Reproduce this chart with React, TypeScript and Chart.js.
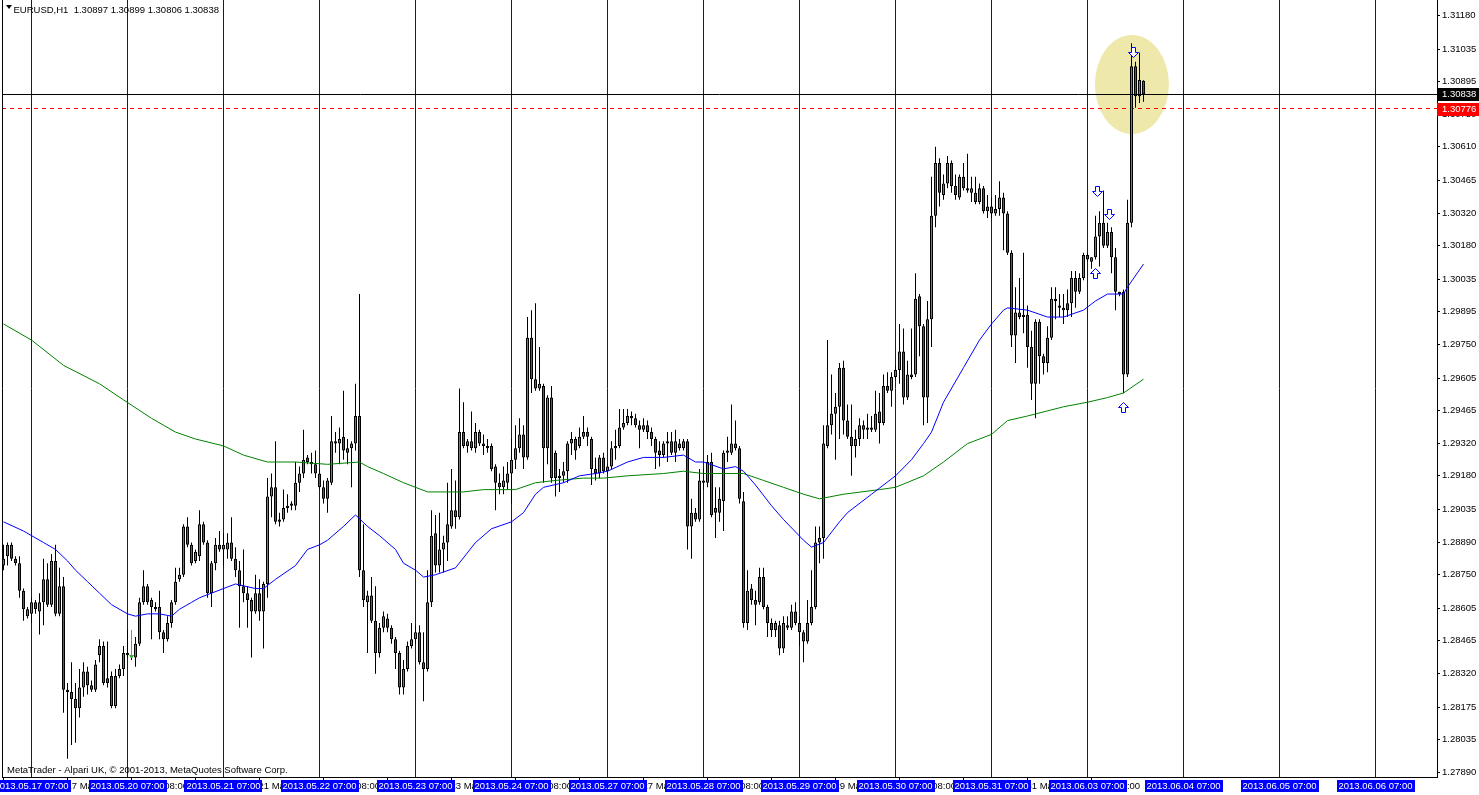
import React, { useEffect, useRef } from "react";
import { Chart, registerables } from "chart.js";

Chart.register(...registerables);

const FONT_FAMILY = '"Liberation Sans", Arial, sans-serif';
const FONT_PX = 9.5;

const symbolTitle = "EURUSD,H1";
const titleValues = "1.30897 1.30899 1.30806 1.30838";
const copyrightText = "MetaTrader - Alpari UK, \u00A9 2001-2013, MetaQuotes Software Corp.";

// Hourly OHLC, bar 0 = 2013.05.17 00:00
const opens = [
  1.2879,1.2883,1.2888,1.2882,1.2880,1.2868,1.2857,1.2858,1.2863,1.2859,
  1.2863,1.2873,1.2862,1.2881,1.2858,1.2870,1.2825,1.2824,1.2821,1.2817,
  1.2826,1.2833,1.2827,1.2825,1.2840,1.2844,1.2830,1.2831,1.2818,1.2831,
  1.2834,1.2841,1.2839,1.2839,1.2845,1.2863,1.2870,1.2864,1.2861,1.2861,
  1.2850,1.2847,1.2854,1.2863,1.2873,1.2875,1.2896,1.2888,1.2881,1.2883,
  1.2897,1.2889,1.2867,1.2880,1.2888,1.2886,1.2886,1.2889,1.2882,1.2877,
  1.2870,1.2867,1.2864,1.2859,1.2867,1.2859,1.2871,1.2909,1.2913,1.2899,
  1.2899,1.2904,1.2905,1.2905,1.2915,1.2919,1.2926,1.2924,1.2923,1.2919,
  1.2913,1.2908,1.2915,1.2933,1.2932,1.2935,1.2928,1.2930,1.2932,1.2944,
  1.2877,1.2863,1.2866,1.2855,1.2841,1.2852,1.2856,1.2852,1.2847,1.2841,
  1.2826,1.2834,1.2844,1.2847,1.2850,1.2837,1.2834,1.2863,1.2893,1.2879,
  1.2886,1.2889,1.2896,1.2903,1.2900,1.2937,1.2931,1.2933,1.2930,1.2937,
  1.2932,1.2931,1.2931,1.2922,1.2915,1.2913,1.2915,1.2919,1.2925,1.2930,
  1.2936,1.2926,1.2978,1.2960,1.2956,1.2957,1.2930,1.2952,1.2928,1.2917,
  1.2918,1.2920,1.2932,1.2934,1.2931,1.2935,1.2937,1.2934,1.2921,1.2919,
  1.2926,1.2920,1.2922,1.2930,1.2931,1.2939,1.2941,1.2944,1.2943,1.2940,
  1.2938,1.2940,1.2937,1.2934,1.2929,1.2927,1.2932,1.2933,1.2928,1.2932,
  1.2930,1.2933,1.2896,1.2902,1.2899,1.2916,1.2915,1.2924,1.2904,1.2902,
  1.2907,1.2928,1.2928,1.2932,1.2930,1.2907,1.2854,1.2869,1.2864,1.2863,
  1.2874,1.2861,1.2854,1.2851,1.2853,1.2843,1.2853,1.2852,1.2859,1.2854,
  1.2850,1.2846,1.2854,1.2861,1.2889,1.2891,1.2931,1.2940,1.2945,1.2948,
  1.2965,1.2942,1.2935,1.2931,1.2934,1.2940,1.2938,1.2939,1.2938,1.2946,
  1.2941,1.2957,1.2955,1.2961,1.2964,1.2972,1.2952,1.2962,1.2962,1.2996,
  1.2983,1.2952,1.2986,1.3031,1.3054,1.3040,1.3045,1.3054,1.3044,1.3039,
  1.3048,1.3043,1.3041,1.3041,1.3037,1.3043,1.3033,1.3035,1.3032,1.3034,
  1.3039,1.3032,1.3015,1.2979,1.2989,1.2987,1.2988,1.2974,1.2958,1.2985,
  1.2970,1.2967,1.2978,1.2995,1.2992,1.2990,1.2993,1.2993,1.3004,1.2998,
  1.3004,1.3014,1.3011,1.3013,1.3022,1.3028,1.3018,1.3024,1.3013,1.2997,
  1.2998,1.2962,1.3028,1.3096,1.3083,1.30897,
];
const highs = [
  1.2888,1.2889,1.2889,1.2883,1.2883,1.2869,1.2861,1.2865,1.2864,1.2867,
  1.2882,1.2880,1.2884,1.2888,1.2878,1.2874,1.2828,1.2837,1.2828,1.2834,
  1.2837,1.2835,1.2829,1.2838,1.2847,1.2846,1.2846,1.2833,1.2834,1.2836,
  1.2844,1.2851,1.2842,1.2848,1.2865,1.2877,1.2871,1.2865,1.2863,1.2868,
  1.2851,1.2857,1.2864,1.2878,1.2878,1.2897,1.2900,1.2889,1.2886,1.2903,
  1.2898,1.2890,1.2881,1.2891,1.2894,1.2893,1.2893,1.2900,1.2887,1.2881,
  1.2886,1.2870,1.2865,1.2875,1.2873,1.2872,1.2917,1.2919,1.2933,1.2902,
  1.2912,1.2910,1.2907,1.2924,1.2922,1.2938,1.2927,1.2928,1.2929,1.2921,
  1.2916,1.2917,1.2944,1.2937,1.2939,1.2955,1.2934,1.2933,1.2958,1.2997,
  1.2897,1.2868,1.2874,1.2870,1.2854,1.2859,1.2858,1.2853,1.2848,1.2842,
  1.2838,1.2846,1.2854,1.2853,1.2853,1.2850,1.2877,1.2903,1.2901,1.2902,
  1.2892,1.2915,1.2921,1.2916,1.2956,1.2950,1.2934,1.2946,1.2941,1.2938,
  1.2936,1.2934,1.2932,1.2923,1.2919,1.2922,1.2924,1.2934,1.2940,1.2943,
  1.2940,1.2987,1.2990,1.2993,1.2974,1.2958,1.2953,1.2957,1.2929,1.2921,
  1.2924,1.2933,1.2937,1.2935,1.2939,1.2944,1.2939,1.2935,1.2926,1.2927,
  1.2928,1.2923,1.2933,1.2938,1.2947,1.2947,1.2947,1.2946,1.2945,1.2942,
  1.2943,1.2942,1.2939,1.2935,1.2933,1.2933,1.2937,1.2937,1.2938,1.2934,
  1.2934,1.2934,1.2908,1.2904,1.2921,1.2921,1.2927,1.2928,1.2913,1.2913,
  1.2929,1.2935,1.2949,1.2942,1.2931,1.2911,1.2877,1.2871,1.2868,1.2878,
  1.2878,1.2862,1.2856,1.2855,1.2855,1.2857,1.2857,1.2862,1.2863,1.2857,
  1.2851,1.2864,1.2877,1.2896,1.2896,1.2940,1.2977,1.2962,1.2954,1.2967,
  1.2968,1.2949,1.2949,1.2938,1.2943,1.2942,1.2945,1.2944,1.2955,1.2954,
  1.2962,1.2963,1.2963,1.2966,1.2984,1.2982,1.2968,1.2982,1.3006,1.2997,
  1.2984,1.2994,1.3048,1.3061,1.3056,1.3049,1.3057,1.3055,1.3049,1.3049,
  1.3054,1.3058,1.3048,1.3048,1.3045,1.3044,1.3040,1.3039,1.3040,1.3046,
  1.3041,1.3033,1.3016,1.3000,1.3004,1.3015,1.2992,1.2981,1.2986,1.2986,
  1.2971,1.2983,1.3000,1.3000,1.2997,1.2997,1.2999,1.3007,1.3007,1.3006,
  1.3015,1.3015,1.3013,1.3031,1.3033,1.3042,1.3028,1.3026,1.3017,1.2998,
  1.2999,1.3038,1.3106,1.3098,1.3102,1.30899,
];
const lows = [
  1.2877,1.2879,1.2881,1.2879,1.2865,1.2855,1.2856,1.2854,1.2858,1.2849,
  1.2853,1.2861,1.2861,1.2857,1.2857,1.2815,1.2795,1.2801,1.2802,1.2813,
  1.2822,1.2823,1.2824,1.2824,1.2837,1.2827,1.2826,1.2817,1.2817,1.2830,
  1.2831,1.2839,1.2838,1.2835,1.2844,1.2862,1.2862,1.2847,1.2859,1.2847,
  1.2841,1.2846,1.2852,1.2862,1.2872,1.2874,1.2887,1.2879,1.2880,1.2881,
  1.2888,1.2865,1.2861,1.2877,1.2885,1.2879,1.2882,1.2881,1.2874,1.2852,
  1.2863,1.2852,1.2839,1.2858,1.2855,1.2843,1.2865,1.2900,1.2897,1.2896,
  1.2898,1.2902,1.2903,1.2903,1.2911,1.2917,1.2923,1.2919,1.2917,1.2912,
  1.2906,1.2902,1.2914,1.2928,1.2923,1.2925,1.2923,1.2913,1.2929,1.2874,
  1.2861,1.2841,1.2854,1.2832,1.2839,1.2850,1.2850,1.2845,1.2834,1.2823,
  1.2823,1.2833,1.2843,1.2845,1.2836,1.2820,1.2833,1.2861,1.2876,1.2876,
  1.2876,1.2881,1.2895,1.2895,1.2899,1.2930,1.2928,1.2929,1.2928,1.2931,
  1.2927,1.2928,1.2920,1.2903,1.2910,1.2910,1.2912,1.2906,1.2921,1.2928,
  1.2921,1.2925,1.2954,1.2955,1.2955,1.2915,1.2923,1.2915,1.2909,1.2911,
  1.2915,1.2915,1.2927,1.2925,1.2930,1.2934,1.2931,1.2914,1.2916,1.2917,
  1.2919,1.2919,1.2921,1.2925,1.2930,1.2938,1.2940,1.2940,1.2939,1.2930,
  1.2937,1.2934,1.2931,1.2921,1.2922,1.2926,1.2924,1.2927,1.2924,1.2929,
  1.2929,1.2886,1.2882,1.2898,1.2898,1.2912,1.2913,1.2900,1.2891,1.2898,
  1.2894,1.2924,1.2927,1.2929,1.2906,1.2852,1.2851,1.2862,1.2853,1.2862,
  1.2860,1.2848,1.2848,1.2848,1.2840,1.2841,1.2851,1.2851,1.2853,1.2844,
  1.2837,1.2845,1.2853,1.2860,1.2880,1.2882,1.2930,1.2936,1.2925,1.2934,
  1.2936,1.2934,1.2918,1.2926,1.2931,1.2934,1.2934,1.2937,1.2937,1.2932,
  1.2940,1.2954,1.2948,1.2960,1.2958,1.2949,1.2951,1.2960,1.2961,1.2970,
  1.2940,1.2941,1.2974,1.3026,1.3035,1.3038,1.3043,1.3041,1.3038,1.3038,
  1.3042,1.3041,1.3037,1.3036,1.3036,1.3032,1.3030,1.3030,1.3031,1.3031,
  1.3016,1.3014,1.2974,1.2967,1.2986,1.2980,1.2965,1.2951,1.2943,1.2958,
  1.2962,1.2963,1.2977,1.2986,1.2987,1.2984,1.2987,1.2987,1.2991,1.2997,
  1.3003,1.3011,1.3008,1.3012,1.3009,1.3017,1.3017,1.3006,1.2990,1.2996,
  1.2954,1.2961,1.3026,1.3078,1.3080,1.30806,
];
const closes = [
  1.2882,1.2888,1.2882,1.2880,1.2868,1.2860,1.2860,1.2863,1.2860,1.2863,
  1.2873,1.2862,1.2881,1.2858,1.2870,1.2825,1.2824,1.2821,1.2817,1.2826,
  1.2833,1.2827,1.2825,1.2836,1.2844,1.2828,1.2828,1.2818,1.2831,1.2834,
  1.2841,1.2840,1.2840,1.2845,1.2863,1.2870,1.2863,1.2861,1.2860,1.2850,
  1.2847,1.2854,1.2863,1.2872,1.2875,1.2896,1.2888,1.2880,1.2885,1.2897,
  1.2889,1.2867,1.2880,1.2888,1.2886,1.2888,1.2889,1.2882,1.2877,1.2870,
  1.2867,1.2864,1.2859,1.2867,1.2859,1.2871,1.2909,1.2913,1.2898,1.2898,
  1.2904,1.2905,1.2906,1.2915,1.2919,1.2925,1.2924,1.2923,1.2919,1.2913,
  1.2908,1.2916,1.2933,1.2932,1.2934,1.2929,1.2930,1.2932,1.2944,1.2877,
  1.2864,1.2866,1.2855,1.2841,1.2852,1.2857,1.2852,1.2847,1.2841,1.2826,
  1.2834,1.2844,1.2847,1.2850,1.2837,1.2834,1.2863,1.2892,1.2879,1.2886,
  1.2889,1.2897,1.2903,1.2900,1.2937,1.2931,1.2933,1.2930,1.2937,1.2932,
  1.2931,1.2930,1.2921,1.2915,1.2913,1.2916,1.2919,1.2925,1.2930,1.2936,
  1.2926,1.2978,1.2960,1.2956,1.2958,1.2930,1.2952,1.2917,1.2917,1.2918,
  1.2920,1.2932,1.2934,1.2929,1.2935,1.2937,1.2935,1.2921,1.2919,1.2926,
  1.2920,1.2922,1.2930,1.2931,1.2939,1.2941,1.2944,1.2943,1.2940,1.2938,
  1.2940,1.2937,1.2934,1.2928,1.2927,1.2932,1.2933,1.2928,1.2933,1.2930,
  1.2933,1.2896,1.2902,1.2899,1.2916,1.2915,1.2924,1.2901,1.2902,1.2908,
  1.2928,1.2929,1.2932,1.2930,1.2908,1.2854,1.2868,1.2864,1.2862,1.2874,
  1.2861,1.2854,1.2851,1.2854,1.2843,1.2854,1.2852,1.2859,1.2854,1.2850,
  1.2846,1.2854,1.2861,1.2889,1.2891,1.2932,1.2940,1.2945,1.2948,1.2965,
  1.2942,1.2935,1.2931,1.2934,1.2940,1.2938,1.2939,1.2938,1.2945,1.2941,
  1.2957,1.2955,1.2961,1.2964,1.2972,1.2952,1.2962,1.2961,1.2995,1.2983,
  1.2952,1.2986,1.3031,1.3054,1.3041,1.3045,1.3054,1.3044,1.3040,1.3048,
  1.3043,1.3042,1.3043,1.3037,1.3043,1.3033,1.3035,1.3032,1.3034,1.3039,
  1.3032,1.3015,1.2979,1.2989,1.2987,1.2988,1.2974,1.2958,1.2985,1.2970,
  1.2967,1.2978,1.2995,1.2994,1.2991,1.2991,1.2990,1.3004,1.2998,1.3004,
  1.3014,1.3012,1.3013,1.3022,1.3028,1.3018,1.3024,1.3013,1.2998,1.2998,
  1.2962,1.3028,1.3096,1.3083,1.3090,1.30838,
];

// Moving averages (bar index, price)
const blueMaIdx = [0,5,7,10,13,16,18,21,24,27,31,33,36,39,42,44,47,49,52,58,63,65,68,73,76,79,81,85,88,91,94,98,100,103,105,108,113,118,122,127,130,133,135,140,144,148,151,156,160,165,170,173,175,180,183,185,188,192,195,200,202,205,209,211,217,223,227,230,232,235,240,244,247,250,251,256,261,265,270,273,276,280,281,285];
const blueMaVals = [1.2898,1.2894,1.2892,1.2889,1.2886,1.2881,1.2877,1.2872,1.2867,1.2862,1.2858,1.2857,1.2858,1.2858,1.2857,1.2860,1.2863,1.2865,1.2867,1.2871,1.2869,1.2869,1.2873,1.2879,1.2886,1.2888,1.2890,1.2896,1.2901,1.2896,1.2892,1.2886,1.2880,1.2877,1.2874,1.2875,1.2878,1.2889,1.2895,1.2898,1.2902,1.2910,1.2913,1.2915,1.2918,1.2919,1.2920,1.2924,1.2926,1.2926,1.2927,1.2924,1.2924,1.2921,1.2922,1.2920,1.2914,1.2905,1.2899,1.2890,1.2887,1.2889,1.2898,1.2902,1.2910,1.2918,1.2925,1.2932,1.2937,1.2950,1.2965,1.2977,1.2984,1.2990,1.2991,1.2990,1.2987,1.2987,1.2990,1.2994,1.2997,1.2997,1.3000,1.3010];
const greenMaIdx = [0,7,15,24,30,37,43,48,55,60,66,73,81,89,91,95,100,103,106,115,120,128,133,138,145,150,156,165,170,175,185,190,195,200,204,210,219,223,230,235,241,247,251,256,265,271,276,280,285];
const greenMaVals = [1.2984,1.2977,1.2966,1.2958,1.2951,1.2943,1.2937,1.2934,1.2931,1.2927,1.2924,1.2924,1.2923,1.2924,1.2922,1.2919,1.2915,1.2913,1.2911,1.2911,1.2912,1.2912,1.2915,1.2916,1.2917,1.2917,1.2918,1.2919,1.2920,1.2919,1.2919,1.2916,1.2913,1.2910,1.2908,1.2910,1.2912,1.2913,1.2918,1.2924,1.2932,1.2936,1.2942,1.2944,1.2948,1.2950,1.2952,1.2954,1.2960];

const bidPrice = 1.30838;
const levelPrice = 1.30776;

const priceTicks = [1.3118,1.31035,1.30895,1.3075,1.3061,1.30465,1.3032,1.3018,1.30035,1.29895,1.2975,1.29605,1.29465,1.2932,1.2918,1.29035,1.2889,1.2875,1.28605,1.28465,1.2832,1.28175,1.28035,1.2789];

const timeTickIdx = [0,16,32,48,64,80,96,112,128,144,160,176,192,208,224,240,256,272];
const timeTickLabels = ["17 May 2013","17 May 16:00","20 May 08:00","21 May 2013","21 May 16:00","22 May 08:00","23 May 2013","23 May 16:00","24 May 08:00","27 May 2013","27 May 16:00","28 May 08:00","29 May 2013","29 May 16:00","30 May 08:00","31 May 2013","31 May 16:00","3 Jun 08:00"];

const dayLineIdx = [7,31,55,79,103,127,151,175,199,223,247,271,295,319,343];
const dayLineLabels = ["2013.05.17 07:00","2013.05.20 07:00","2013.05.21 07:00","2013.05.22 07:00","2013.05.23 07:00","2013.05.24 07:00","2013.05.27 07:00","2013.05.28 07:00","2013.05.29 07:00","2013.05.30 07:00","2013.05.31 07:00","2013.06.03 07:00","2013.06.04 07:00","2013.06.05 07:00","2013.06.06 07:00"];

const downArrowIdx = [273.4, 276.4, 282.4];
const downArrowPrice = [1.3042, 1.3032, 1.3102];
const upArrowIdx = [272.9, 279.9];
const upArrowPrice = [1.3006, 1.2948];

const markerIdx = 32;
const markerFrom = 1.2851;
const markerTo = 1.2839;

const ellipseIdx = 282.1;
const ellipsePrice = 1.30881;
const ellipseHalfBars = 9.25;
const ellipseHalfPrice = 0.00215;

const X_MIN = -0.375;
const X_MAX = 358.375;
const Y_MIN = 1.27871;
const Y_MAX = 1.31248;

const UP_COLOR = "#33AA33";
const DOWN_COLOR = "#EE1C1C";
const LINE_BLUE = "#0000FF";
const MA_GREEN = "#008000";

const crisp = (v: number) => Math.round(v - 0.5) + 0.5;
const fontStr = () => `${FONT_PX}px ${FONT_FAMILY}`;

function drawArrow(ctx: CanvasRenderingContext2D, cx: number, cy: number, dir: number) {
  ctx.beginPath();
  ctx.moveTo(cx - 2, cy - dir * 5);
  ctx.lineTo(cx + 2, cy - dir * 5);
  ctx.lineTo(cx + 2, cy);
  ctx.lineTo(cx + 5, cy);
  ctx.lineTo(cx, cy + dir * 5);
  ctx.lineTo(cx - 5, cy);
  ctx.lineTo(cx - 2, cy);
  ctx.closePath();
  ctx.fillStyle = "#FFFFFF";
  ctx.fill();
  ctx.strokeStyle = LINE_BLUE;
  ctx.lineWidth = 1;
  ctx.stroke();
}

const overlayPlugin = {
  id: "mt4Overlay",
  beforeDatasetsDraw(chart: any) {
    const { ctx, chartArea: ca, scales } = chart;
    const x = scales.x;
    const y = scales.y;
    ctx.save();
    ctx.beginPath();
    ctx.rect(ca.left, ca.top, ca.right - ca.left, ca.bottom - ca.top);
    ctx.clip();
    ctx.strokeStyle = LINE_BLUE;
    ctx.lineWidth = 1;
    dayLineIdx.forEach((k) => {
      const xx = crisp(x.getPixelForValue(k));
      ctx.beginPath();
      ctx.moveTo(xx, ca.top);
      ctx.lineTo(xx, ca.bottom);
      ctx.stroke();
    });
    const cx = x.getPixelForValue(ellipseIdx);
    const cy = y.getPixelForValue(ellipsePrice);
    const rx = Math.abs(x.getPixelForValue(ellipseIdx + ellipseHalfBars) - cx);
    const ry = Math.abs(y.getPixelForValue(ellipsePrice + ellipseHalfPrice) - cy);
    ctx.fillStyle = "#EEE8AA";
    ctx.beginPath();
    ctx.ellipse(cx, cy, rx, ry, 0, 0, Math.PI * 2);
    ctx.fill();
    const ly = crisp(y.getPixelForValue(levelPrice));
    ctx.strokeStyle = "#FF0000";
    ctx.setLineDash([4, 4]);
    ctx.beginPath();
    ctx.moveTo(ca.left, ly);
    ctx.lineTo(ca.right, ly);
    ctx.stroke();
    ctx.setLineDash([]);
    ctx.restore();
  },
  afterDatasetsDraw(chart: any) {
    const { ctx, chartArea: ca, scales } = chart;
    const x = scales.x;
    const y = scales.y;
    ctx.save();
    ctx.beginPath();
    ctx.rect(ca.left, ca.top, ca.right - ca.left, ca.bottom - ca.top);
    ctx.clip();
    const by = crisp(y.getPixelForValue(bidPrice));
    ctx.strokeStyle = "#000000";
    ctx.lineWidth = 1;
    ctx.beginPath();
    ctx.moveTo(ca.left, by);
    ctx.lineTo(ca.right, by);
    ctx.stroke();
    const mx = crisp(x.getPixelForValue(markerIdx));
    const my1 = y.getPixelForValue(markerFrom);
    const my2 = y.getPixelForValue(markerTo);
    ctx.strokeStyle = "#00E000";
    ctx.beginPath();
    ctx.moveTo(mx, my1);
    ctx.lineTo(mx, my2);
    ctx.stroke();
    ctx.beginPath();
    ctx.moveTo(mx - 2.5, my2 - 3);
    ctx.lineTo(mx, my2);
    ctx.lineTo(mx + 2.5, my2 - 3);
    ctx.stroke();
    downArrowIdx.forEach((k, i) => {
      drawArrow(ctx, crisp(x.getPixelForValue(k)), Math.round(y.getPixelForValue(downArrowPrice[i])) + 0.5, 1);
    });
    upArrowIdx.forEach((k, i) => {
      drawArrow(ctx, crisp(x.getPixelForValue(k)), Math.round(y.getPixelForValue(upArrowPrice[i])) + 0.5, -1);
    });
    ctx.restore();
  },
  afterDraw(chart: any) {
    const { ctx, chartArea: ca, scales } = chart;
    const x = scales.x;
    const y = scales.y;
    const W = chart.width;
    ctx.save();
    ctx.strokeStyle = "#000000";
    ctx.lineWidth = 1;
    ctx.beginPath();
    ctx.moveTo(ca.left + 0.5, ca.top);
    ctx.lineTo(ca.left + 0.5, ca.bottom);
    ctx.stroke();
    ctx.font = fontStr();
    ctx.textBaseline = "middle";
    const boxes = [
      { price: levelPrice, bg: "#FF0000" },
      { price: bidPrice, bg: "#000000" },
    ];
    boxes.forEach((b) => {
      const py = y.getPixelForValue(b.price);
      ctx.fillStyle = b.bg;
      ctx.fillRect(ca.right, Math.round(py) - 6, W - ca.right, 13);
      ctx.fillStyle = "#FFFFFF";
      ctx.textAlign = "left";
      ctx.fillText(b.price.toFixed(5), ca.right + 5, Math.round(py) + 0.5);
    });
    dayLineIdx.forEach((k, i) => {
      const cx = x.getPixelForValue(k);
      const label = dayLineLabels[i];
      const tw = ctx.measureText(label).width;
      const bw = Math.round(tw + 4);
      const bx = Math.round(cx - bw / 2);
      ctx.fillStyle = LINE_BLUE;
      ctx.fillRect(bx, ca.bottom + 3, bw, 12);
      ctx.fillStyle = "#FFFFFF";
      ctx.textAlign = "center";
      ctx.fillText(label, cx, ca.bottom + 9.5);
    });
    ctx.fillStyle = "#000000";
    ctx.beginPath();
    ctx.moveTo(6, 5);
    ctx.lineTo(12, 5);
    ctx.lineTo(9, 9);
    ctx.closePath();
    ctx.fill();
    ctx.textAlign = "left";
    ctx.textBaseline = "alphabetic";
    ctx.fillText(symbolTitle + "  " + titleValues, 13.5, 13);
    ctx.fillText(copyrightText, 7, 773);
    ctx.restore();
  },
};

export default function App() {
  const canvasRef = useRef<HTMLCanvasElement | null>(null);

  useEffect(() => {
    const canvas = canvasRef.current;
    if (!canvas) return;
    const idx = closes.map((_, i) => i);
    const wickData = idx.map((i) => ({ x: i, y: [lows[i], highs[i]] }));
    const bodyData = idx.map((i) => ({ x: i, y: [opens[i], closes[i]] }));
    const bodyColors = idx.map((i) => (closes[i] >= opens[i] ? UP_COLOR : DOWN_COLOR));
    const blueMa = blueMaIdx.map((k, i) => ({ x: k, y: blueMaVals[i] }));
    const greenMa = greenMaIdx.map((k, i) => ({ x: k, y: greenMaVals[i] }));

    const chart = new Chart(canvas, {
      type: "bar",
      data: {
        datasets: [
          {
            type: "line",
            label: "MA fast",
            data: blueMa,
            borderColor: LINE_BLUE,
            borderWidth: 1,
            pointRadius: 0,
            tension: 0,
            order: 0,
          } as any,
          {
            type: "line",
            label: "MA slow",
            data: greenMa,
            borderColor: MA_GREEN,
            borderWidth: 1,
            pointRadius: 0,
            tension: 0,
            order: 1,
          } as any,
          {
            type: "bar",
            label: "bodies",
            data: bodyData,
            backgroundColor: bodyColors,
            borderColor: "#000000",
            borderWidth: 1,
            borderSkipped: false,
            grouped: false,
            barPercentage: 1,
            categoryPercentage: 1,
            maxBarThickness: 3,
            inflateAmount: 0,
            order: 2,
          } as any,
          {
            type: "bar",
            label: "wicks",
            data: wickData,
            backgroundColor: "#000000",
            borderWidth: 0,
            grouped: false,
            barPercentage: 1,
            categoryPercentage: 1,
            maxBarThickness: 1,
            inflateAmount: 0,
            order: 3,
          } as any,
        ],
      },
      options: {
        responsive: false,
        maintainAspectRatio: false,
        devicePixelRatio: 1,
        animation: false,
        events: [],
        layout: { padding: { left: 2, right: 0, top: 0, bottom: 0 } },
        plugins: {
          legend: { display: false },
          title: { display: false },
          tooltip: { enabled: false },
        },
        scales: {
          x: {
            type: "linear",
            position: "bottom",
            offset: false,
            min: X_MIN,
            max: X_MAX,
            afterBuildTicks: (scale: any) => {
              scale.ticks = timeTickIdx.map((v) => ({ value: v }));
            },
            afterFit: (scale: any) => {
              scale.height = 18;
              scale.paddingLeft = 0;
              scale.paddingRight = 0;
            },
            ticks: {
              autoSkip: false,
              maxRotation: 0,
              minRotation: 0,
              align: "start",
              labelOffset: -1,
              padding: 0,
              color: "#000000",
              font: { family: FONT_FAMILY, size: FONT_PX },
              callback: (v: any) => {
                const j = timeTickIdx.indexOf(Number(v));
                return j >= 0 ? timeTickLabels[j] : "";
              },
            },
            grid: {
              offset: false,
              drawOnChartArea: false,
              drawTicks: true,
              tickLength: 4,
              color: "#000000",
              tickColor: "#000000",
            },
            border: { display: true, color: "#000000", width: 1 },
          },
          y: {
            type: "linear",
            position: "right",
            offset: false,
            min: Y_MIN,
            max: Y_MAX,
            afterBuildTicks: (scale: any) => {
              scale.ticks = priceTicks.map((v) => ({ value: v }));
            },
            afterFit: (scale: any) => {
              scale.width = 42;
              scale.paddingTop = 0;
              scale.paddingBottom = 0;
            },
            ticks: {
              autoSkip: false,
              padding: 2,
              color: "#000000",
              font: { family: FONT_FAMILY, size: FONT_PX },
              callback: (v: any) => Number(v).toFixed(5),
            },
            grid: {
              drawOnChartArea: false,
              drawTicks: true,
              tickLength: 3,
              color: "#000000",
              tickColor: "#000000",
            },
            border: { display: true, color: "#000000", width: 1 },
          },
        },
      } as any,
      plugins: [overlayPlugin],
    });

    return () => {
      chart.destroy();
    };
  }, []);

  return (
    <div
      style={{
        position: "absolute",
        left: 0,
        top: 0,
        width: 1479,
        height: 795,
        background: "#FFFFFF",
      }}
    >
      <canvas
        ref={canvasRef}
        width={1479}
        height={795}
        style={{ display: "block", width: 1479, height: 795 }}
      />
    </div>
  );
}
